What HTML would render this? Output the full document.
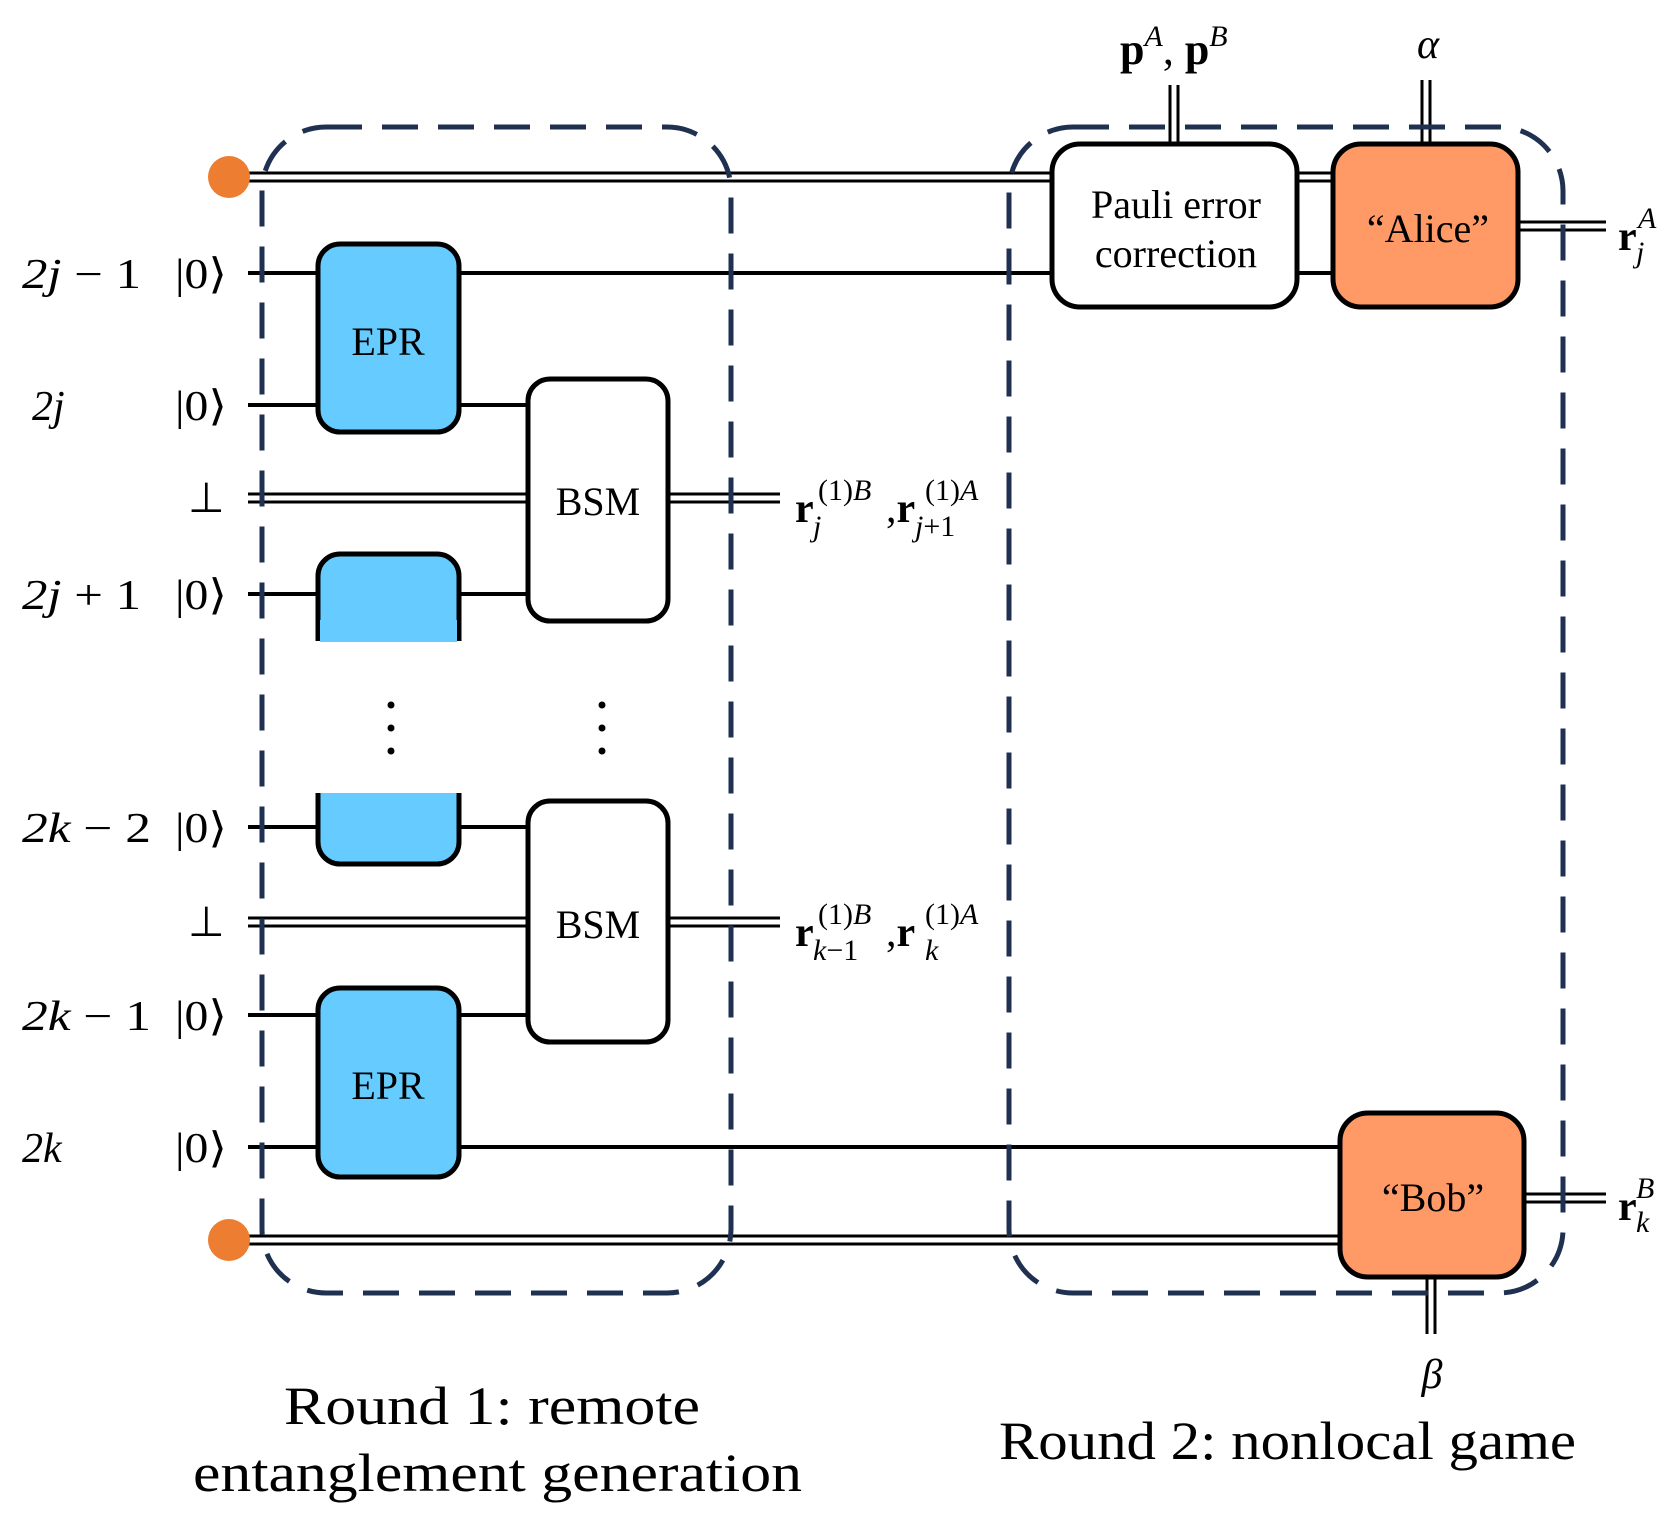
<!DOCTYPE html>
<html><head><meta charset="utf-8"><style>
html,body{margin:0;padding:0;background:#fff}
svg{display:block}
.t{font-family:"Liberation Serif",serif}
</style></head><body>
<svg width="1662" height="1518" viewBox="0 0 1662 1518" xmlns="http://www.w3.org/2000/svg">
<g stroke="#000" stroke-width="4" fill="none">
<line x1="229" y1="173" x2="1052" y2="173" stroke-width="3"/>
<line x1="229" y1="181" x2="1052" y2="181" stroke-width="3"/>
<line x1="1297" y1="173" x2="1333" y2="173" stroke-width="3"/>
<line x1="1297" y1="181" x2="1333" y2="181" stroke-width="3"/>
<line x1="229" y1="1236" x2="1340" y2="1236" stroke-width="3"/>
<line x1="229" y1="1244" x2="1340" y2="1244" stroke-width="3"/>
<line x1="248" y1="273" x2="1052" y2="273"/>
<line x1="1297" y1="273" x2="1333" y2="273"/>
<line x1="248" y1="405" x2="528" y2="405"/>
<line x1="248" y1="594" x2="528" y2="594"/>
<line x1="248" y1="827" x2="528" y2="827"/>
<line x1="248" y1="1015" x2="528" y2="1015"/>
<line x1="248" y1="1147" x2="1340" y2="1147"/>
<line x1="248" y1="494" x2="528" y2="494" stroke-width="3"/>
<line x1="248" y1="502" x2="528" y2="502" stroke-width="3"/>
<line x1="248" y1="918" x2="528" y2="918" stroke-width="3"/>
<line x1="248" y1="926" x2="528" y2="926" stroke-width="3"/>
<line x1="668" y1="494" x2="780" y2="494" stroke-width="3"/>
<line x1="668" y1="502" x2="780" y2="502" stroke-width="3"/>
<line x1="668" y1="918" x2="780" y2="918" stroke-width="3"/>
<line x1="668" y1="926" x2="780" y2="926" stroke-width="3"/>
<line x1="1518" y1="222" x2="1606" y2="222" stroke-width="3"/>
<line x1="1518" y1="230" x2="1606" y2="230" stroke-width="3"/>
<line x1="1524" y1="1194" x2="1606" y2="1194" stroke-width="3"/>
<line x1="1524" y1="1202" x2="1606" y2="1202" stroke-width="3"/>
<line x1="1170" y1="85" x2="1170" y2="144" stroke-width="3"/>
<line x1="1178" y1="85" x2="1178" y2="144" stroke-width="3"/>
<line x1="1422" y1="80" x2="1422" y2="144" stroke-width="3"/>
<line x1="1430" y1="80" x2="1430" y2="144" stroke-width="3"/>
<line x1="1427" y1="1277" x2="1427" y2="1334" stroke-width="3"/>
<line x1="1435" y1="1277" x2="1435" y2="1334" stroke-width="3"/>
</g>
<circle cx="229" cy="177" r="21" fill="#ED7D31"/>
<circle cx="229" cy="1240" r="21" fill="#ED7D31"/>
<g stroke="#000" stroke-width="5">
<rect x="318" y="244" width="141" height="188" rx="22" fill="#66CCFF"/>
<rect x="318" y="988" width="141" height="189" rx="22" fill="#66CCFF"/>
<rect x="528" y="379" width="140" height="242" rx="22" fill="#fff"/>
<rect x="528" y="801" width="140" height="241" rx="22" fill="#fff"/>
<rect x="1052" y="144" width="245" height="163" rx="28" fill="#fff"/>
<rect x="1333" y="144" width="185" height="163" rx="28" fill="#FF9966"/>
<rect x="1340" y="1113" width="184" height="164" rx="28" fill="#FF9966"/>
</g>
<path d="M318,641 V576 a22,22 0 0 1 22,-22 H437 a22,22 0 0 1 22,22 V641" fill="#66CCFF" stroke="#000" stroke-width="5"/>
<rect x="320" y="620" width="137" height="22" fill="#66CCFF"/>
<rect x="310" y="642" width="160" height="10" fill="#fff"/>
<path d="M318,793 V842 a22,22 0 0 0 22,22 H437 a22,22 0 0 0 22,-22 V793" fill="#66CCFF" stroke="#000" stroke-width="5"/>
<rect x="310" y="784" width="160" height="9" fill="#fff"/>
<g fill="none" stroke="#1F3050" stroke-width="5" stroke-dasharray="36,20">
<rect x="262" y="127" width="469" height="1166" rx="64"/>
<rect x="1009" y="127" width="554" height="1166" rx="64"/>
</g>
<g fill="#000">
<circle cx="391" cy="705" r="3.5"/><circle cx="391" cy="728" r="3.5"/><circle cx="391" cy="751" r="3.5"/>
<circle cx="602" cy="705" r="3.5"/><circle cx="602" cy="728" r="3.5"/><circle cx="602" cy="751" r="3.5"/>
</g>
<g class="t" font-size="40" text-anchor="middle" fill="#000">
<text x="388" y="355">EPR</text>
<text x="388" y="1099">EPR</text>
<text x="598" y="515">BSM</text>
<text x="598" y="938">BSM</text>
<text x="1176" y="218">Pauli error</text>
<text x="1176" y="267">correction</text>
<text x="1428" y="242">“Alice”</text>
<text x="1433" y="1211">“Bob”</text>
</g>
<g class="t" font-size="42" fill="#000">
<text x="22" y="288" textLength="119" lengthAdjust="spacingAndGlyphs"><tspan font-style="italic">2j</tspan> − 1</text>
<text x="32" y="420" font-style="italic">2j</text>
<text x="22" y="609" textLength="119" lengthAdjust="spacingAndGlyphs"><tspan font-style="italic">2j</tspan> + 1</text>
<text x="22" y="842" textLength="129" lengthAdjust="spacingAndGlyphs"><tspan font-style="italic">2k</tspan> − 2</text>
<text x="22" y="1030" textLength="129" lengthAdjust="spacingAndGlyphs"><tspan font-style="italic">2k</tspan> − 1</text>
<text x="22" y="1162" font-style="italic">2k</text>
<text x="175" y="288" textLength="52" lengthAdjust="spacingAndGlyphs">|0⟩</text>
<text x="175" y="420" textLength="52" lengthAdjust="spacingAndGlyphs">|0⟩</text>
<text x="175" y="609" textLength="52" lengthAdjust="spacingAndGlyphs">|0⟩</text>
<text x="175" y="842" textLength="52" lengthAdjust="spacingAndGlyphs">|0⟩</text>
<text x="175" y="1030" textLength="52" lengthAdjust="spacingAndGlyphs">|0⟩</text>
<text x="175" y="1162" textLength="52" lengthAdjust="spacingAndGlyphs">|0⟩</text>
<text x="188" y="512">⊥</text>
<text x="188" y="936">⊥</text>
</g>
<g class="t" fill="#000">
<text x="795" y="522" font-size="42" font-weight="bold">r</text>
<text x="813" y="536" font-size="30" font-style="italic">j</text>
<text x="818" y="500" font-size="30">(1)<tspan font-style="italic">B</tspan></text>
<text x="886" y="522" font-size="42">,<tspan font-weight="bold">r</tspan></text>
<text x="915" y="536" font-size="30"><tspan font-style="italic">j</tspan>+1</text>
<text x="925" y="500" font-size="30">(1)<tspan font-style="italic">A</tspan></text>
<text x="795" y="946" font-size="42" font-weight="bold">r</text>
<text x="813" y="960" font-size="30"><tspan font-style="italic">k</tspan>−1</text>
<text x="818" y="924" font-size="30">(1)<tspan font-style="italic">B</tspan></text>
<text x="886" y="946" font-size="42">,<tspan font-weight="bold">r</tspan></text>
<text x="925" y="960" font-size="30" font-style="italic">k</text>
<text x="925" y="924" font-size="30">(1)<tspan font-style="italic">A</tspan></text>
<text x="1618" y="250" font-size="42" font-weight="bold">r</text>
<text x="1636" y="262" font-size="30" font-style="italic">j</text>
<text x="1638" y="228" font-size="30" font-style="italic">A</text>
<text x="1618" y="1220" font-size="42" font-weight="bold">r</text>
<text x="1636" y="1232" font-size="30" font-style="italic">k</text>
<text x="1636" y="1198" font-size="30" font-style="italic">B</text>
<text x="1120" y="64" font-size="44"><tspan font-weight="bold">p</tspan><tspan font-size="30" font-style="italic" dy="-18">A</tspan><tspan dy="18">, </tspan><tspan font-weight="bold">p</tspan><tspan font-size="30" font-style="italic" dy="-18">B</tspan></text>
<text x="1428" y="58" font-size="42" font-style="italic" text-anchor="middle">α</text>
<text x="1432" y="1388" font-size="42" font-style="italic" text-anchor="middle">β</text>
</g>
<g font-family="'Liberation Serif',serif" font-size="54" fill="#000">
<text x="284" y="1424" textLength="416" lengthAdjust="spacingAndGlyphs">Round 1:  remote</text>
<text x="193" y="1491" textLength="609" lengthAdjust="spacingAndGlyphs">entanglement generation</text>
<text x="999" y="1459" textLength="577" lengthAdjust="spacingAndGlyphs">Round 2: nonlocal game</text>
</g>
</svg>
</body></html>
